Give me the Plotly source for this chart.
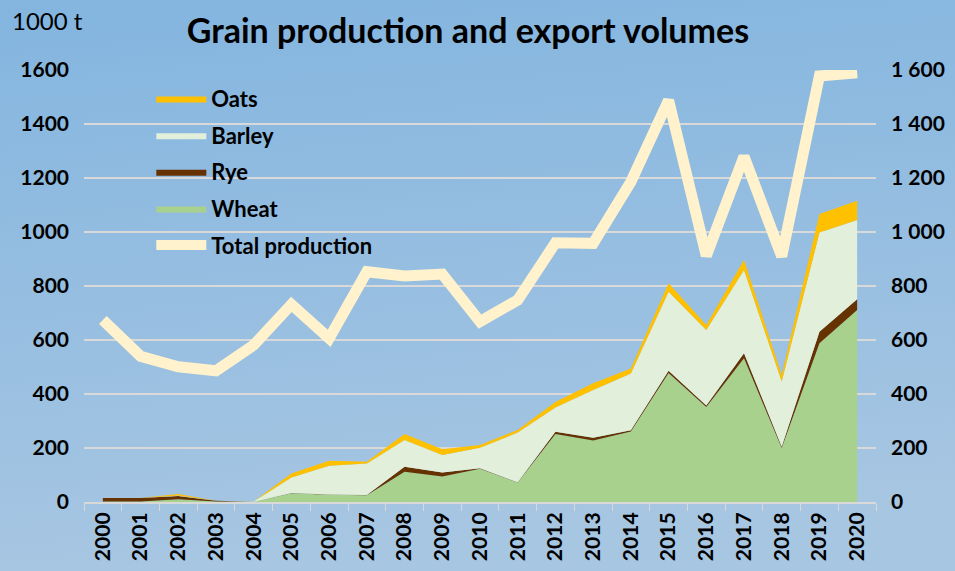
import base64
import plotly.graph_objects as go

# --- data (1000 t) ---
years = [str(y) for y in range(2000, 2021)]
wheat = [2, 2, 10, 2, 1, 32, 27, 25, 112, 94, 123, 72, 252, 228, 261, 478, 352, 532, 200, 588, 711]
rye = [13, 13, 12, 3, 0, 1, 1, 1, 19, 15, 2, 1, 8, 10, 5, 8, 5, 19, 5, 43, 40]
barley = [0, 0, 2, 0, 1, 58, 106, 117, 99, 65, 76, 184, 90, 177, 210, 293, 280, 308, 241, 367, 293]
oats = [0, 0, 6, 0, 0, 15, 19, 6, 22, 21, 10, 10, 20, 25, 18, 31, 19, 37, 24, 69, 72]
total = [674, 540, 501, 486, 581, 732, 606, 853, 837, 844, 668, 748, 960, 958, 1186, 1488,
         912, 1280, 910, 1578, 1590]

W, H = 955, 571
ML, MR, MT, MB = 84, 79, 70, 69
PW, PH = W - ML - MR, H - MT - MB

FONT = "Lato"

# background gradient as an svg image behind everything
svg = (
    f'<svg xmlns="http://www.w3.org/2000/svg" width="{W}" height="{H}">'
    '<defs><linearGradient id="g" x1="0" y1="0" x2="0.15" y2="1">'
    '<stop offset="0" stop-color="#83b5df"/>'
    '<stop offset="1" stop-color="#a7c6e2"/>'
    '</linearGradient></defs>'
    f'<rect width="{W}" height="{H}" fill="url(#g)"/></svg>'
)
bg_src = "data:image/svg+xml;base64," + base64.b64encode(svg.encode()).decode()

fig = go.Figure()

areas = [
    ("Wheat", wheat, "#a9d18e", 4),
    ("Rye", rye, "#663300", 3),
    ("Barley", barley, "#e2efda", 2),
    ("Oats", oats, "#ffc000", 1),
]
for name, vals, color, rank in areas:
    fig.add_trace(go.Scatter(
        x=years, y=vals, name=name,
        mode="lines", stackgroup="grain",
        line=dict(width=0, color=color),
        fillcolor=color,
        legendrank=rank, legendgroup=name,
        hoverinfo="skip",
    ))

fig.add_trace(go.Scatter(
    x=years, y=total, name="Total production",
    mode="lines", yaxis="y2",
    line=dict(color="#fff2cc", width=11),
    legendrank=5, legendgroup="total",
    hoverinfo="skip",
))

tick_font = dict(family=FONT, size=21, color="black", weight="bold")

fig.update_layout(
    width=W, height=H,
    margin=dict(l=ML, r=MR, t=MT, b=MB, autoexpand=False),
    paper_bgcolor="#95bee1",
    plot_bgcolor="rgba(0,0,0,0)",
    separators=". ",
    images=[dict(
        source=bg_src, xref="paper", yref="paper",
        x=-ML / PW, y=1 + MT / PH, sizex=W / PW, sizey=H / PH,
        xanchor="left", yanchor="top", sizing="stretch", layer="below",
    )],
    title=dict(
        text="<b>Grain production and export volumes</b>",
        font=dict(family=FONT, size=34, color="black"),
        x=0.49, xanchor="center", y=0.945, yanchor="middle",
    ),
    xaxis=dict(
        type="category",
        range=[-0.5, 20.5],
        automargin=False,
        tickangle=-90,
        tickfont=tick_font,
        ticks="outside", tickson="boundaries", ticklen=7, tickcolor="#d9d9d9",
        showline=True, linecolor="#d9d9d9", linewidth=2,
        showgrid=False, zeroline=False,
    ),
    yaxis=dict(
        range=[0, 1600], dtick=200, automargin=False,
        tickfont=tick_font,
        showgrid=True, gridcolor="#d9d9d9", gridwidth=2,
        zeroline=False, ticklabelstandoff=14,
    ),
    yaxis2=dict(
        range=[0, 1600], dtick=200, automargin=False,
        overlaying="y", side="right",
        tickfont=tick_font, separatethousands=True,
        showgrid=False, zeroline=False, ticklabelstandoff=14,
    ),
    legend=dict(
        x=0.085, y=0.982, xanchor="left", yanchor="top",
        bgcolor="rgba(0,0,0,0)",
        font=dict(family=FONT, size=22, color="black", weight="bold"),
        traceorder="grouped", tracegroupgap=5,
        itemwidth=50,
    ),
    annotations=[dict(
        text="1000 t", xref="paper", yref="paper",
        x=-ML / PW + 10 / PW, y=1 + (MT - 20) / PH,
        xanchor="left", yanchor="middle", showarrow=False,
        font=dict(family=FONT, size=24, color="black"),
    )],
)

# the page body has an 8px default margin; drop it so the chart sits at 0,0
fig.write_html(
    "out.html",
    config={"displayModeBar": False},
    post_script="document.body.style.margin='0';",
)
